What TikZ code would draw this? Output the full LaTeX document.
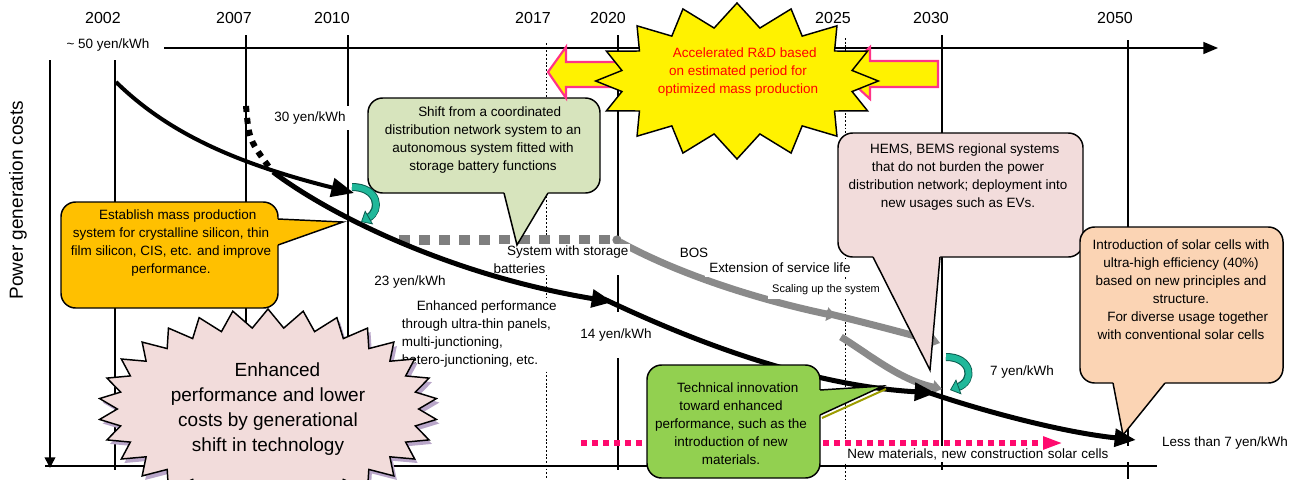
\documentclass[tikz,border=0pt]{standalone}
\usepackage{fontspec}
\setmainfont{Liberation Sans}
\usetikzlibrary{arrows.meta,shapes.symbols}
\definecolor{cgreenlt}{HTML}{D7E4BD}
\definecolor{corange}{HTML}{FFC000}
\definecolor{cpink}{HTML}{F2DCDB}
\definecolor{cpeach}{HTML}{FBD4B4}
\definecolor{cgreen}{HTML}{92D050}
\definecolor{arrpink}{HTML}{FF3388}
\definecolor{dotpink}{HTML}{FF0A6E}
\definecolor{cgray}{HTML}{8A8A8A}
\definecolor{dgray}{HTML}{7F7F7F}
\definecolor{tealc}{HTML}{20B89A}
\definecolor{teald}{HTML}{0B5E50}
\definecolor{shadowc}{HTML}{B9A6C9}
\definecolor{olivec}{HTML}{9C9C00}
\begin{document}
\begin{tikzpicture}[x=0.75pt,y=-0.75pt,
  gridline/.style={line width=1.1pt},
  dotline/.style={line width=0.7pt, dash pattern=on 1.4pt off 1.4pt},
  year/.style={font=\fontsize{12}{14}\selectfont, inner sep=0pt},
  body/.style={font=\fontsize{10.1}{13.5}\selectfont, inner sep=1pt},
  smalltxt/.style={font=\fontsize{8.25}{10}\selectfont, inner sep=1pt, fill=white},
  lbl/.style={body, fill=white},
  box/.style={draw=black, line width=1.1pt, rounded corners=11pt},
  ptr/.style={draw=black, line width=1.1pt, line join=miter},
  bigarrow/.style={line width=3.75pt, -{Triangle[length=16pt,width=13pt]}},
  midarrow/.style={line width=3pt, -{Triangle[length=17pt,width=14pt]}},
  grayarrow/.style={cgray, line width=5.25pt, -{Triangle[length=7pt,width=10pt]}},
  curl/.style={line width=4.5pt, tealc, -{Triangle[length=7pt,width=12pt,fill=tealc,color=teald,line width=0.6pt]}},
  curlrim/.style={line width=6pt, teald, shorten >=6pt},
  burst/.style={starburst, random starburst=0, draw=black, line width=1.1pt},
  blockarrow/.style={draw=arrpink, line width=1.6pt, fill=yellow, line join=miter},
]
\useasboundingbox (0,0) rectangle (1299,479);

% ---------- year labels ----------
\node[year] (y2002) at (103,18) {2002};
\node[year] (y2007) at (234,18) {2007};
\node[year] (y2010) at (332,18) {2010};
\node[year] (y2017) at (533,18) {2017};
\node[year] (y2020) at (608,18) {2020};
\node[year] (y2025) at (833,18) {2025};
\node[year] (y2030) at (931,18) {2030};
\node[year] (y2050) at (1115,18) {2050};

% ---------- grid lines ----------
\draw[gridline] (115,60) -- (115,470);
\draw[gridline] (246,35) -- (246,470);
\draw[gridline] (348,35) -- (348,470);
\draw[dotline] (546,43) -- (546,479);
\draw[gridline] (618,35) -- (618,470);
\draw[dotline] (845,38) -- (845,479);
\draw[gridline] (942,35) -- (942,470);
\draw[gridline] (1128,40) -- (1128,479);

% ---------- axes ----------
\coordinate (topL) at (164,48);
\coordinate (topR) at (1218,48);
\coordinate (yaxT) at (50,60);
\coordinate (yaxB) at (50,468);
\coordinate (botL) at (45,466);
\coordinate (botR) at (1157,466);
\draw[gridline, -{Triangle[length=11pt,width=9pt]}] (topL) -- (topR);
\draw[gridline, -{Triangle[length=8pt,width=8pt]}] (yaxT) -- (yaxB);
\draw[gridline] (botL) -- (botR);
\node[rotate=90, font=\fontsize{14.25}{16}\selectfont] (ylabel) at (18,200) {Power generation costs};
\node[lbl, inner sep=4pt] (p50) at (108,45) {\textasciitilde\ 50 yen/kWh};

% ---------- gray BOS curves ----------
\coordinate (gd1) at (399,240);
\coordinate (gd2) at (612,240);
\draw[dgray, line width=7.5pt, dash pattern=on 8.25pt off 6.75pt] (gd1) -- (gd2);
\fill[dgray] (617,240) circle[radius=3.5pt];
\coordinate (g1s) at (620,242);
\coordinate (g1e) at (836,316);
\coordinate (g2s) at (826,313);
\coordinate (g2e) at (940,343);
\coordinate (g3s) at (841,337);
\coordinate (g3e) at (942,389);
\draw[grayarrow] (g1s) .. controls (680,275) and (760,300) .. (g1e);
\draw[grayarrow] (g2s) .. controls (870,324) and (905,333) .. (g2e);
\draw[grayarrow] (g3s) .. controls (870,355) and (900,380) .. (g3e);

% ---------- white labels ----------
\node[lbl, inner sep=4pt] (p30) at (310,118) {30 yen/kWh};
\node[lbl] (p23) at (410,282) {23 yen/kWh};
\node[lbl, align=left, anchor=north west, inner sep=2pt] (enh) at (399,298)
  {\hspace{1.1em}Enhanced performance\\through ultra-thin panels,\\multi-junctioning,\\hetero-junctioning, etc.};
\node[lbl, align=left, anchor=north west, inner sep=1pt] (sysbat) at (492,244)
  {\hspace{1em}System with storage\\batteries};
\node[lbl, minimum height=34pt] (p14) at (616,335) {14 yen/kWh};
\node[body] (bos) at (694,253) {BOS};
\node[lbl, inner sep=3pt] (ext) at (780,268) {Extension of service life};
\node[smalltxt, inner sep=3pt] (scale) at (826,290) {Scaling up the system};
\node[body] (p7) at (1022,372) {7 yen/kWh};
\node[lbl, anchor=west, text width=230pt, align=left, inner xsep=3pt, inner ysep=1.5pt] (newmat) at (843,454)
  {New materials, new construction solar cells};
\node[body] (pless) at (1225,443) {Less than 7 yen/kWh};

% ---------- black cost curves ----------
\coordinate (c1s) at (116,82);
\coordinate (c1e) at (354,193);
\coordinate (dots) at (246,106);
\coordinate (dote) at (272,171);
\coordinate (c2s) at (273,172);
\coordinate (c2e) at (613,302);
\coordinate (c3s) at (604,299);
\coordinate (c3e) at (936,393);
\coordinate (c4s) at (930,393);
\coordinate (c4e) at (1136,440);
\draw[midarrow] (c1s) .. controls (165,130) and (230,162) .. (c1e);
\draw[line width=4.5pt, dash pattern=on 4.5pt off 4.5pt] (dots) .. controls (249,140) .. (dote);
\draw[bigarrow] (c2s) .. controls (330,215) and (450,275) .. (c2e);
\draw[bigarrow] (c3s) .. controls (680,335) and (800,385) .. (c3e);
\draw[bigarrow] (c4s) .. controls (980,410) and (1060,432) .. (c4e);

% ---------- pink dotted arrow ----------
\coordinate (nmS) at (581,443);
\coordinate (nmE) at (1063,443);
\draw[dotpink, line width=4.5pt, dash pattern=on 4.5pt off 3.75pt, -{Triangle[length=15pt,width=9pt]}] (nmS) -- (nmE);

% ---------- callouts ----------
% orange
\draw[box, fill=corange] (61,202) rectangle (278,308);
\fill[corange] (274,219) -- (278,219) -- (343,222) -- (278,245) -- (274,245) -- cycle;
\draw[ptr] (278,219) -- (343,222) -- (278,245);
\node[body, align=center] (estab) at (171,243)
  {\hspace{1em}Establish mass production\\system for crystalline silicon, thin\\film silicon, CIS, etc. and improve\\performance.};

% light green top
\draw[box, fill=cgreenlt] (368,98) rectangle (600,193);
\fill[cgreenlt] (504,189) -- (504,194) -- (517,245) -- (548,194) -- (548,189) -- cycle;
\draw[ptr] (504,193) -- (517,245) -- (548,193);
\node[body, align=center] (shift) at (483,140)
  {\hspace{1em}Shift from a coordinated\\distribution network system to an\\autonomous system fitted with\\storage battery functions};

% HEMS pink
\draw[box, fill=cpink] (838,133) rectangle (1083,257);
\fill[cpink] (873,253) -- (873,258) -- (930,370) -- (940,258) -- (940,253) -- cycle;
\draw[ptr] (873,257) -- (930,370) -- (940,257);
\node[body, align=center] (hems) at (958,177)
  {\hspace{1em}HEMS, BEMS regional systems\\that do not burden the power\\distribution network; deployment into\\new usages such as EVs.};

% peach
\draw[box, fill=cpeach] (1080,227) rectangle (1283,383);
\fill[cpeach] (1113,379) -- (1113,384) -- (1123,435) -- (1165,384) -- (1165,379) -- cycle;
\draw[ptr] (1113,383) -- (1123,435) -- (1165,383);
\node[body, align=center] (intro) at (1181,290)
  {Introduction of solar cells with\\ultra-high efficiency (40\%)\\based on new principles and\\structure.\\\hspace{1em}For diverse usage together\\with conventional solar cells};

% green bottom
\draw[olivec, line width=1.5pt] (822,418) -- (886,389);
\draw[box, fill=cgreen] (647,365) rectangle (820,478);
\fill[cgreen] (816,390) -- (820,390) -- (883,386) -- (820,415) -- (816,415) -- cycle;
\draw[ptr] (820,390) -- (883,386) -- (820,415);
\node[body, align=center] (techinno) at (731,424)
  {\hspace{1em}Technical innovation\\toward enhanced\\performance, such as the\\introduction of new\\materials.};

% ---------- accelerated R&D block arrows and starburst ----------
\draw[blockarrow] (548,72) -- (566,47) -- (566,62) -- (700,62) -- (700,87) -- (566,87) -- (566,98) -- cycle;
\draw[blockarrow] (938,61) -- (870,61) -- (870,47) -- (842,73) -- (870,99) -- (870,87) -- (938,87) -- cycle;
\node[burst, fill=yellow, starburst points=16, starburst point height=18pt,
      minimum width=212pt, minimum height=117pt] (rd) at (737,81) {};
\node[body, text=red, align=center] (rdtext) at (738,72)
  {\hspace{1em}Accelerated R\&D based\\on estimated period for\\optimized mass production};

% ---------- generational shift starburst ----------
\node[burst, draw=none, fill=shadowc, starburst points=30, starburst point height=14pt,
      minimum width=254pt, minimum height=150pt] (genshadow) at (271,413) {};
\node[burst, fill=cpink, starburst points=30, starburst point height=14pt,
      minimum width=254pt, minimum height=150pt, align=center,
      font=\fontsize{14.25}{18.75}\selectfont] (gen) at (268,409)
  {\hspace{1em}Enhanced\\performance and lower\\costs by generational\\shift in technology};

% ---------- teal curl arrows ----------
\draw[curlrim] (352,187) .. controls (378,187) and (382,210) .. (361,222);
\draw[curl] (352,187) .. controls (378,187) and (382,210) .. (361,222);
\draw[curlrim] (946,357) .. controls (972,357) and (975,381) .. (950,390);
\draw[curl] (946,357) .. controls (972,357) and (975,381) .. (950,390);
\end{tikzpicture}
\end{document}
